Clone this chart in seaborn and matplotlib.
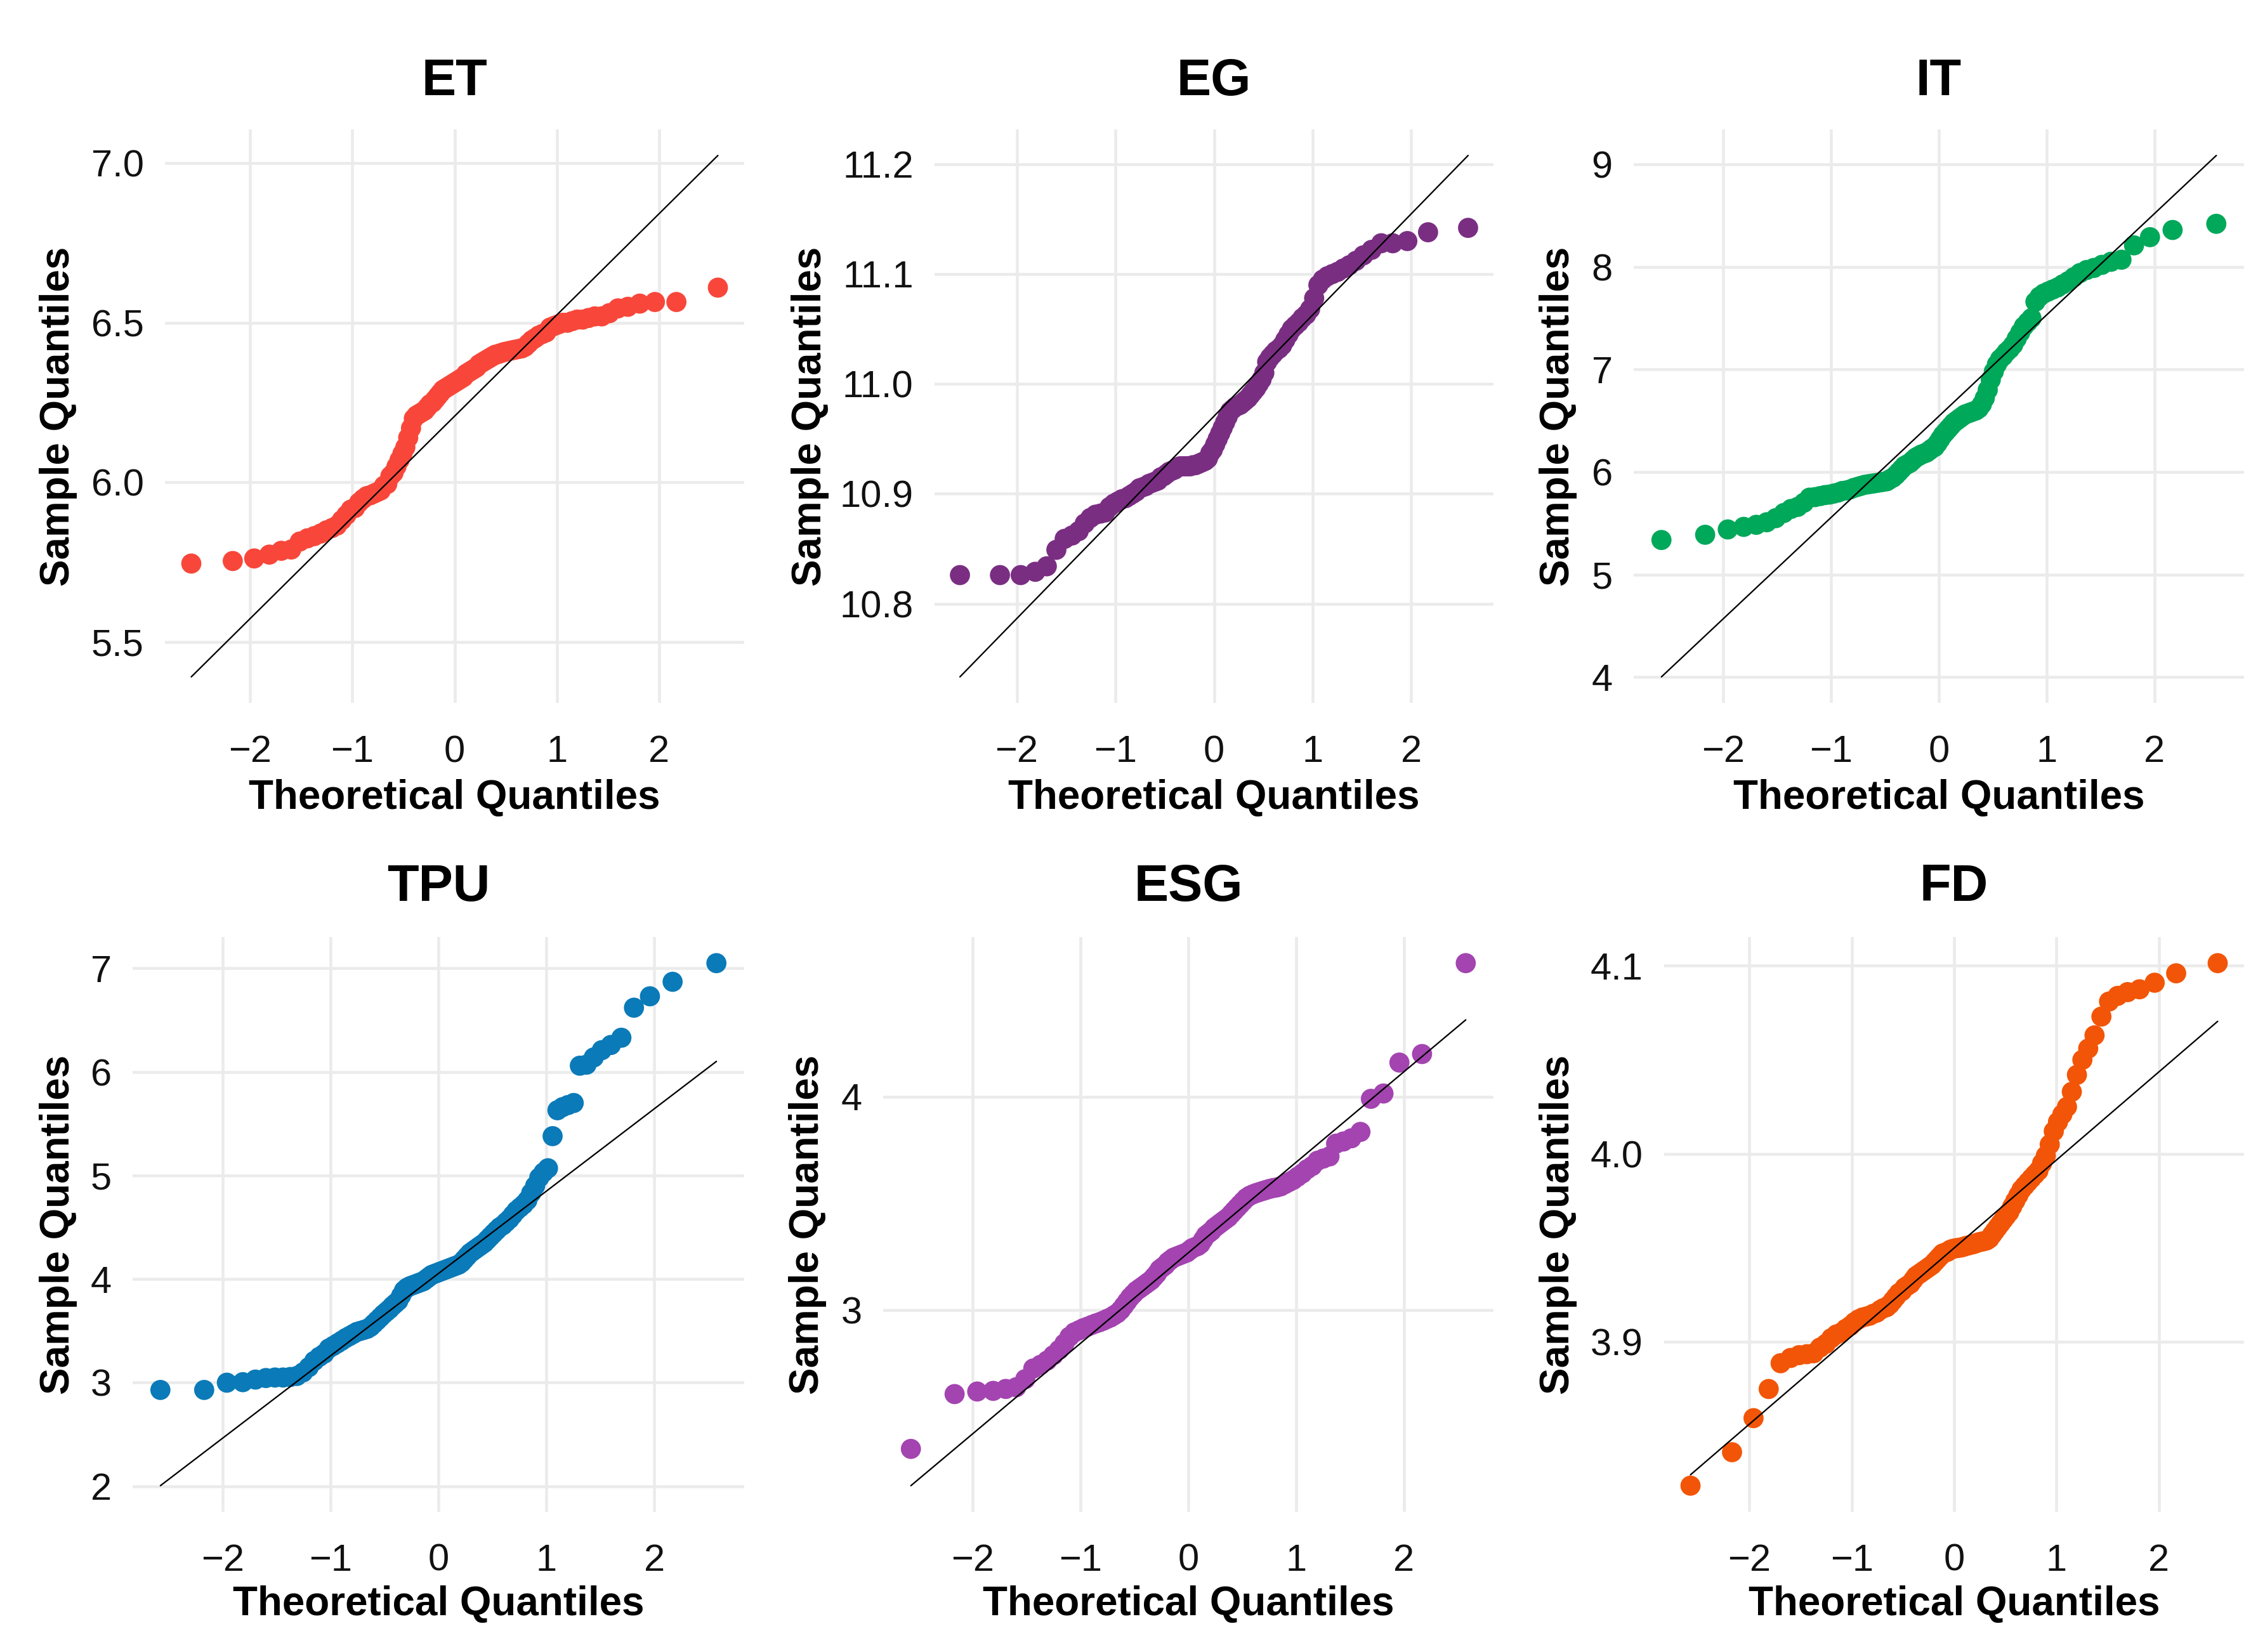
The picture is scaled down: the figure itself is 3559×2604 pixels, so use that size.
import statistics
import numpy as np
import pandas as pd
import seaborn as sns
import matplotlib
matplotlib.use("Agg")
import matplotlib.pyplot as plt
from matplotlib.ticker import MultipleLocator, FormatStrFormatter

# sorted sample values (n = 100 per variable)
et = [5.746, 5.754, 5.762, 5.774, 5.786, 5.79, 5.815, 5.825, 5.832, 5.84,
      5.85, 5.857, 5.865, 5.882, 5.898, 5.915, 5.92, 5.937, 5.948, 5.957,
      5.96, 5.965, 5.97, 5.975, 5.99, 5.995, 6.02, 6.03, 6.05, 6.07,
      6.09, 6.11, 6.14, 6.17, 6.2, 6.21, 6.215, 6.22, 6.225, 6.235,
      6.245, 6.25, 6.26, 6.27, 6.28, 6.29, 6.295, 6.3, 6.305, 6.31,
      6.315, 6.32, 6.325, 6.33, 6.34, 6.345, 6.35, 6.355, 6.36, 6.37,
      6.375, 6.38, 6.385, 6.39, 6.395, 6.4, 6.402, 6.405, 6.408, 6.41,
      6.412, 6.414, 6.416, 6.418, 6.42, 6.425, 6.435, 6.445, 6.452, 6.46,
      6.465, 6.47, 6.485, 6.49, 6.495, 6.5, 6.5, 6.505, 6.51, 6.51,
      6.515, 6.52, 6.52, 6.53, 6.545, 6.55, 6.56, 6.565, 6.565, 6.61]

eg = [10.826, 10.826, 10.826, 10.829, 10.834, 10.849, 10.859, 10.862, 10.866, 10.873,
      10.878, 10.881, 10.882, 10.883, 10.888, 10.891, 10.893, 10.895, 10.896, 10.898,
      10.9, 10.902, 10.905, 10.906, 10.907, 10.909, 10.91, 10.911, 10.912, 10.915,
      10.916, 10.918, 10.92, 10.921, 10.922, 10.924, 10.925, 10.925, 10.925, 10.925,
      10.925, 10.926, 10.926, 10.927, 10.928, 10.929, 10.93, 10.932, 10.937, 10.94,
      10.945, 10.95, 10.955, 10.96, 10.965, 10.97, 10.975, 10.977, 10.979, 10.98,
      10.981, 10.983, 10.985, 10.987, 10.99, 10.993, 10.996, 11.0, 11.004, 11.01,
      11.02, 11.024, 11.027, 11.03, 11.032, 11.035, 11.04, 11.045, 11.05, 11.053,
      11.056, 11.06, 11.063, 11.068, 11.078, 11.09, 11.095, 11.098, 11.1, 11.102,
      11.105, 11.108, 11.112, 11.117, 11.122, 11.128, 11.128, 11.13, 11.138, 11.142]

it = [5.337, 5.388, 5.44, 5.465, 5.485, 5.51, 5.55, 5.6, 5.64, 5.66,
      5.7, 5.75, 5.755, 5.765, 5.775, 5.78, 5.79, 5.8, 5.815, 5.82,
      5.83, 5.845, 5.855, 5.865, 5.875, 5.88, 5.885, 5.89, 5.895, 5.9,
      5.905, 5.91, 5.93, 5.945, 5.97, 6.0, 6.03, 6.06, 6.075, 6.09,
      6.115, 6.14, 6.155, 6.17, 6.18, 6.19, 6.21, 6.23, 6.245, 6.28,
      6.32, 6.36, 6.39, 6.42, 6.45, 6.48, 6.5, 6.52, 6.54, 6.56,
      6.57, 6.58, 6.59, 6.6, 6.62, 6.66, 6.72, 6.8, 6.9, 6.98,
      7.05, 7.1, 7.13, 7.17, 7.2, 7.24, 7.3, 7.36, 7.42, 7.46,
      7.5, 7.66, 7.71, 7.74, 7.76, 7.78, 7.8, 7.83, 7.86, 7.9,
      7.94, 7.97, 7.99, 8.02, 8.05, 8.07, 8.21, 8.29, 8.36, 8.42]

tpu = [2.93, 2.93, 3.0, 3.005, 3.03, 3.045, 3.05, 3.05, 3.055, 3.065,
       3.1, 3.15, 3.21, 3.25, 3.28, 3.33, 3.355, 3.38, 3.405, 3.43,
       3.45, 3.47, 3.49, 3.5, 3.51, 3.52, 3.54, 3.57, 3.6, 3.63,
       3.66, 3.685, 3.71, 3.74, 3.765, 3.79, 3.84, 3.89, 3.915, 3.93,
       3.94, 3.95, 3.96, 3.97, 3.98, 4.0, 4.02, 4.04, 4.05, 4.06,
       4.07, 4.08, 4.09, 4.1, 4.11, 4.12, 4.13, 4.14, 4.16, 4.19,
       4.22, 4.25, 4.27, 4.29, 4.31, 4.33, 4.35, 4.38, 4.41, 4.44,
       4.47, 4.5, 4.52, 4.55, 4.58, 4.62, 4.66, 4.69, 4.72, 4.76,
       4.83, 4.9, 4.98, 5.03, 5.07, 5.38, 5.63, 5.66, 5.68, 5.7,
       6.06, 6.07, 6.14, 6.21, 6.26, 6.33, 6.62, 6.73, 6.87, 7.05]

esg = [2.349, 2.606, 2.618, 2.621, 2.63, 2.638, 2.676, 2.726, 2.743, 2.763,
       2.788, 2.813, 2.843, 2.875, 2.895, 2.905, 2.915, 2.922, 2.93, 2.937,
       2.943, 2.95, 2.958, 2.965, 2.975, 2.985, 3.0, 3.02, 3.04, 3.06,
       3.075, 3.09, 3.1, 3.11, 3.12, 3.13, 3.14, 3.155, 3.17, 3.19,
       3.2, 3.21, 3.225, 3.235, 3.245, 3.25, 3.255, 3.26, 3.265, 3.27,
       3.28, 3.29, 3.295, 3.3, 3.31, 3.33, 3.35, 3.36, 3.37, 3.385,
       3.395, 3.405, 3.415, 3.425, 3.435, 3.45, 3.465, 3.48, 3.495, 3.51,
       3.525, 3.535, 3.542, 3.548, 3.553, 3.558, 3.563, 3.568, 3.572, 3.575,
       3.58, 3.59, 3.6, 3.61, 3.625, 3.64, 3.66, 3.675, 3.7, 3.71,
       3.72, 3.78, 3.79, 3.805, 3.835, 3.99, 4.015, 4.16, 4.2, 4.626]

fd = [3.8236, 3.8414, 3.8595, 3.875, 3.8887, 3.8915, 3.893, 3.8935, 3.894, 3.897,
      3.899, 3.902, 3.904, 3.905, 3.907, 3.9085, 3.9105, 3.912, 3.913, 3.9135,
      3.914, 3.915, 3.9156, 3.917, 3.918, 3.9185, 3.92, 3.922, 3.924, 3.926,
      3.927, 3.929, 3.93, 3.931, 3.933, 3.935, 3.936, 3.937, 3.938, 3.939,
      3.94, 3.941, 3.9425, 3.944, 3.9455, 3.947, 3.9475, 3.948, 3.949, 3.9495,
      3.9498, 3.95, 3.9502, 3.9505, 3.951, 3.9513, 3.9517, 3.952, 3.9525, 3.953,
      3.9533, 3.9536, 3.954, 3.955, 3.957, 3.959, 3.961, 3.963, 3.965, 3.967,
      3.969, 3.972, 3.975, 3.978, 3.981, 3.983, 3.985, 3.987, 3.989, 3.991,
      3.995, 3.999, 4.005, 4.012, 4.017, 4.021, 4.025, 4.033, 4.042, 4.05,
      4.056, 4.063, 4.073, 4.081, 4.084, 4.086, 4.0875, 4.091, 4.096, 4.1014]

names = ["ET", "EG", "IT", "TPU", "ESG", "FD"]
series = [et, eg, it, tpu, esg, fd]
colors = ["#F8473A", "#7A2E82", "#00A85A", "#0A7AB8", "#A344B0", "#F25507"]
y_steps = [0.5, 0.1, 1, 1, 1, 0.1]
y_fmts = ["%.1f", "%.1f", "%d", "%d", "%d", "%.1f"]

sns.set_theme(style="whitegrid")
plt.rcParams["font.family"] = ["Liberation Sans", "DejaVu Sans"]
plt.rcParams["grid.color"] = "#EBEBEB"
plt.rcParams["grid.linewidth"] = 1.1
plt.rcParams["text.color"] = "black"
plt.rcParams["axes.labelcolor"] = "black"

W, H = 3559, 2604
fig = plt.figure(figsize=(W / 300, H / 300), dpi=300)
fig.patch.set_facecolor("white")

# panel boxes in pixels: left, top, right, bottom
boxes = [(260, 204, 1173, 1108), (1473, 204, 2354, 1108), (2575, 204, 3537, 1108),
         (209, 1477, 1173, 2383), (1392, 1477, 2354, 2383), (2623, 1477, 3537, 2383)]
ylab_x = [92, 1277, 2456, 92, 1273, 2456]
title_y = [129, 129, 129, 1399, 1399, 1399]
xlab_y = [1258, 1258, 1258, 2529, 2529, 2529]

nd = statistics.NormalDist()


def qq_frame(values):
    n = len(values)
    theo = [nd.inv_cdf((i + 0.5) / n) for i in range(n)]
    return pd.DataFrame({"theoretical": theo, "sample": sorted(values)})


for k, name in enumerate(names):
    vals = series[k]
    l, t, r, b = boxes[k]
    ax = fig.add_axes([l / W, 1 - b / H, (r - l) / W, (b - t) / H])
    ax.set_facecolor("white")

    df = qq_frame(vals)
    # qqline through the first and third quartiles
    q1, q3 = np.quantile(vals, [0.25, 0.75])
    z1, z3 = nd.inv_cdf(0.25), nd.inv_cdf(0.75)
    slope = (q3 - q1) / (z3 - z1)
    inter = q1 - slope * z1
    xs = [df["theoretical"].min(), df["theoretical"].max()]
    line = pd.DataFrame({"x": xs, "y": [inter + slope * x for x in xs]})

    sns.scatterplot(data=df, x="theoretical", y="sample", color=colors[k], s=58,
                    edgecolor="none", linewidth=0, ax=ax, zorder=3)
    sns.lineplot(data=line, x="x", y="y", color="black", linewidth=0.55, ax=ax, zorder=4)

    ax.xaxis.set_major_locator(MultipleLocator(1))
    ax.yaxis.set_major_locator(MultipleLocator(y_steps[k]))
    ax.yaxis.set_major_formatter(FormatStrFormatter(y_fmts[k]))
    ax.tick_params(axis="both", length=0, labelsize=14.3, labelcolor="#111111")
    ax.tick_params(axis="x", pad=12)
    ax.tick_params(axis="y", pad=8)
    ax.grid(True, which="major")
    sns.despine(ax=ax, left=True, bottom=True)

    ax.set_title(name, fontsize=19.5, fontweight="bold", pad=0, va="center",
                 y=1 + (t - title_y[k]) / (b - t), color="black")
    ax.set_xlabel("Theoretical Quantiles", fontsize=15.3, fontweight="bold", va="center")
    ax.set_ylabel("Sample Quantiles", fontsize=15.3, fontweight="bold", va="center")
    ax.xaxis.set_label_coords(0.5, -(xlab_y[k] - b) / (b - t))
    ax.yaxis.set_label_coords((ylab_x[k] - l) / (r - l), 0.5)

fig.savefig("out.png", dpi=300, facecolor="white")
